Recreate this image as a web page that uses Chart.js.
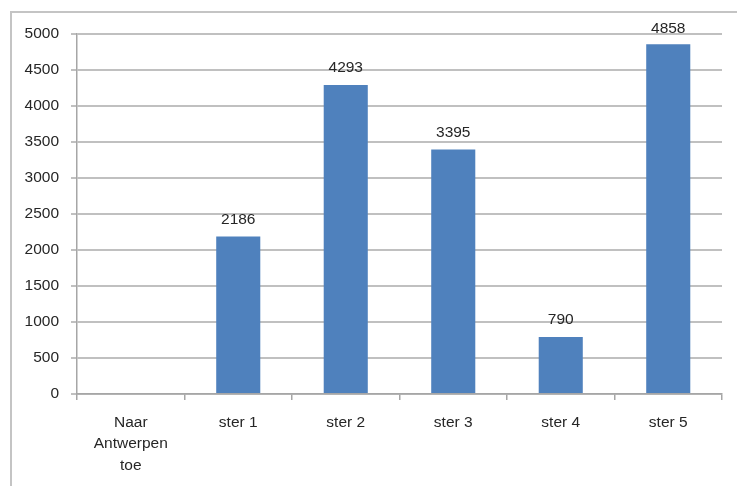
<!DOCTYPE html>
<html>
<head>
<meta charset="utf-8">
<script src="https://cdn.jsdelivr.net/npm/chart.js@4/dist/chart.umd.min.js"></script>
<style>
html,body{margin:0;padding:0;background:#fff;}
#wrap{position:absolute;left:0;top:0;width:737px;height:486px;}
</style>
</head>
<body>
<div id="wrap"><canvas id="c" width="737" height="486"></canvas></div>
<script>
const categories = [["Naar", "Antwerpen", "toe"], "ster 1", "ster 2", "ster 3", "ster 4", "ster 5"];
const values = [null, 2186, 4293, 3395, 790, 4858];
const yTicks = [0, 500, 1000, 1500, 2000, 2500, 3000, 3500, 4000, 4500, 5000];

const FONT = "'Liberation Sans', Arial, sans-serif";
const TEXT = '#262626';
const FSIZE = 15.5;

const frame = {
  id: 'frame',
  beforeDraw(chart) {
    const ctx = chart.ctx;
    ctx.save();
    ctx.fillStyle = '#fff';
    ctx.fillRect(0, 0, chart.width, chart.height);
    ctx.strokeStyle = '#c4c4c4';
    ctx.lineWidth = 2;
    ctx.beginPath();
    ctx.moveTo(11, chart.height + 5);
    ctx.lineTo(11, 12);
    ctx.lineTo(chart.width + 5, 12);
    ctx.stroke();
    ctx.restore();
  }
};

const valueLabels = {
  id: 'valueLabels',
  afterDatasetsDraw(chart) {
    const ctx = chart.ctx;
    const meta = chart.getDatasetMeta(0);
    ctx.save();
    ctx.font = FSIZE + 'px ' + FONT;
    ctx.fillStyle = TEXT;
    ctx.textAlign = 'center';
    ctx.textBaseline = 'alphabetic';
    meta.data.forEach((bar, i) => {
      const v = values[i];
      if (v === null || v === undefined) return;
      const y = Math.max(bar.y - 13, 33);
      ctx.fillText(String(v), bar.x, y);
    });
    ctx.restore();
  }
};

new Chart(document.getElementById('c'), {
  type: 'bar',
  data: {
    labels: categories,
    datasets: [{
      data: values,
      backgroundColor: '#4f81bd',
      borderColor: '#4f81bd',
      borderWidth: 0,
      barPercentage: 0.41,
      categoryPercentage: 1.0
    }]
  },
  options: {
    responsive: false,
    animation: false,
    devicePixelRatio: 1,
    layout: { padding: { left: 0, right: 15, top: 34, bottom: 0 } },
    plugins: { legend: { display: false }, tooltip: { enabled: false } },
    scales: {
      y: {
        min: 0, max: 5000,
        afterBuildTicks(scale) { scale.ticks = yTicks.map(v => ({ value: v })); },
        afterFit(scale) { scale.width = 77; },
        ticks: {
          color: TEXT,
          font: { family: FONT, size: FSIZE },
          padding: 12,
          callback: (v) => String(v)
        },
        grid: {
          color: '#c0c0c0',
          lineWidth: 2,
          tickLength: 6,
          tickColor: '#c0c0c0'
        },
        border: { display: true, color: '#a6a6a6', width: 1.5 }
      },
      x: {
        afterFit(scale) { scale.height = 92; },
        ticks: {
          color: TEXT,
          font: { family: FONT, size: FSIZE, lineHeight: 1.38 },
          padding: 12,
          maxRotation: 0,
          autoSkip: false
        },
        grid: {
          display: true,
          offset: true,
          drawOnChartArea: false,
          drawTicks: true,
          tickLength: 6,
          color: '#a6a6a6',
          lineWidth: 1.5
        },
        border: { display: true, color: '#a6a6a6', width: 1.5 }
      }
    }
  },
  plugins: [frame, valueLabels]
});
</script>
</body>
</html>
